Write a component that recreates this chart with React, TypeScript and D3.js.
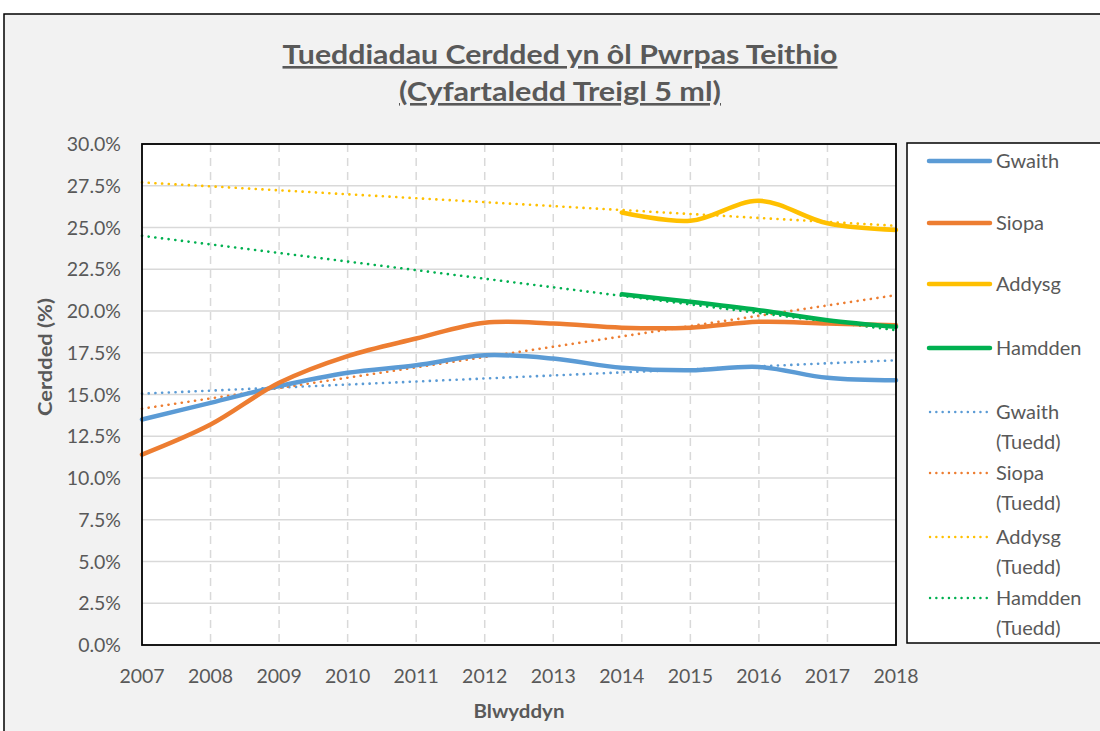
import React from "react";
import * as d3 from "d3";

const years = [2007, 2008, 2009, 2010, 2011, 2012, 2013, 2014, 2015, 2016, 2017, 2018];
const gwaith = [13.5, 14.5, 15.5, 16.3, 16.75, 17.35, 17.15, 16.6, 16.45, 16.65, 16.0, 15.85];
const siopa = [11.4, 13.2, 15.7, 17.3, 18.35, 19.3, 19.25, 19.0, 19.0, 19.35, 19.25, 19.15];
const addysgYears = [2014, 2015, 2016, 2017, 2018];
const addysg = [25.9, 25.4, 26.6, 25.25, 24.85];
const hamdden = [21.0, 20.55, 20.05, 19.45, 19.05];
const trendYears = [2007, 2018];
const gwaithTrend = [15.05, 17.05];
const siopaTrend = [14.15, 20.95];
const addysgTrend = [27.7, 25.1];
const hamddenTrend = [24.5, 18.85];
const yTicks = [0, 2.5, 5, 7.5, 10, 12.5, 15, 17.5, 20, 22.5, 25, 27.5, 30];

const COLORS = { gwaith: "#5b9bd5", siopa: "#ed7d31", addysg: "#ffc000", hamdden: "#00b050" };

const font = "Lato, 'Open Sans', sans-serif";
const textCol = "#595959";

export default function App() {
  const W = 1100, H = 731;
  const L = 142, R = 896, T = 144, B = 645;
  const x = d3.scaleLinear().domain([2007, 2018]).range([L, R]);
  const y = d3.scaleLinear().domain([0, 30]).range([B, T]);
  const smooth = d3.line<[number, number]>().x(d => x(d[0])).y(d => y(d[1])).curve(d3.curveCatmullRom.alpha(0.5));
  const straight = d3.line<[number, number]>().x(d => x(d[0])).y(d => y(d[1]));
  const zip = (xs: number[], vs: number[]) => xs.map((v, i) => [v, vs[i]] as [number, number]);

  const solids = [
    { name: "Gwaith", color: COLORS.gwaith, d: smooth(zip(years, gwaith)) },
    { name: "Siopa", color: COLORS.siopa, d: smooth(zip(years, siopa)) },
    { name: "Addysg", color: COLORS.addysg, d: smooth(zip(addysgYears, addysg)) },
    { name: "Hamdden", color: COLORS.hamdden, d: smooth(zip(addysgYears, hamdden)) },
  ];
  const trends = [
    { name: "Gwaith", color: COLORS.gwaith, d: straight(zip(trendYears, gwaithTrend)) },
    { name: "Siopa", color: COLORS.siopa, d: straight(zip(trendYears, siopaTrend)) },
    { name: "Addysg", color: COLORS.addysg, d: straight(zip(trendYears, addysgTrend)) },
    { name: "Hamdden", color: COLORS.hamdden, d: straight(zip(trendYears, hamddenTrend)) },
  ];
  const dot = { strokeWidth: 2.6, strokeDasharray: "0.1 6.6", strokeLinecap: "round" as const };

  const legendSolidY = [161, 223, 284, 348];
  const legendTrendY = [412, 473, 537, 598];

  return (
    <svg width={W} height={H} style={{ position: "absolute", left: 0, top: 0, fontFamily: font }}>
      <rect x={0} y={0} width={W} height={H} fill="#ffffff" />
      <rect x={4} y={14} width={W + 10} height={H + 10} fill="#f2f2f2" stroke="#000" strokeWidth={1.5} />
      <text x={560} y={64} textAnchor="middle" fontSize={26} fontWeight="bold" fill={textCol} textDecoration="underline" textLength={555} lengthAdjust="spacingAndGlyphs">Tueddiadau Cerdded yn ôl Pwrpas Teithio</text>
      <text x={560} y={101} textAnchor="middle" fontSize={26} fontWeight="bold" fill={textCol} textDecoration="underline" textLength={322} lengthAdjust="spacingAndGlyphs">(Cyfartaledd Treigl 5 ml)</text>

      <rect x={L} y={T} width={R - L} height={B - T} fill="#fff" />
      {yTicks.filter(t => t > 0).map(t => (
        <line key={"h" + t} x1={L} x2={R} y1={y(t)} y2={y(t)} stroke="#d9d9d9" strokeWidth={1.5} />
      ))}
      {years.slice(1, -1).map(yr => (
        <line key={"v" + yr} x1={x(yr)} x2={x(yr)} y1={T} y2={B} stroke="#d9d9d9" strokeWidth={1.5} strokeDasharray="8 6" />
      ))}
      {trends.map(t => (
        <path key={"t" + t.name} d={t.d || ""} fill="none" stroke={t.color} {...dot} />
      ))}
      {solids.map(s => (
        <path key={"s" + s.name} d={s.d || ""} fill="none" stroke={s.color} strokeWidth={4.5} strokeLinecap="round" />
      ))}
      <rect x={L} y={T} width={R - L} height={B - T} fill="none" stroke="#000" strokeWidth={1.8} />

      {yTicks.map(t => (
        <text key={"yl" + t} x={121} y={y(t) + 7} textAnchor="end" fontSize={19.5} fill={textCol}>{t.toFixed(1)}%</text>
      ))}
      {years.map(yr => (
        <text key={"xl" + yr} x={x(yr)} y={683} textAnchor="middle" fontSize={19.5} fill={textCol}>{yr}</text>
      ))}
      <text x={519} y={718} textAnchor="middle" fontSize={18} fontWeight="bold" fill={textCol} textLength={91} lengthAdjust="spacingAndGlyphs">Blwyddyn</text>
      <text transform={`translate(52, 357) rotate(-90)`} textAnchor="middle" fontSize={18} fontWeight="bold" fill={textCol} textLength={118} lengthAdjust="spacingAndGlyphs">Cerdded (%)</text>

      <rect x={907} y={143} width={W} height={500} fill="#fff" stroke="#000" strokeWidth={1.5} />
      {solids.map((s, i) => (
        <g key={"ls" + s.name}>
          <line x1={929} x2={990} y1={legendSolidY[i]} y2={legendSolidY[i]} stroke={s.color} strokeWidth={4.5} strokeLinecap="round" />
          <text x={996} y={legendSolidY[i] + 7} fontSize={20} fill={textCol}>{s.name}</text>
        </g>
      ))}
      {trends.map((t, i) => (
        <g key={"lt" + t.name}>
          <line x1={930} x2={990} y1={legendTrendY[i]} y2={legendTrendY[i]} stroke={t.color} strokeWidth={2.4} strokeDasharray="0.1 6.2" strokeLinecap="round" />
          <text x={996} y={legendTrendY[i] + 7} fontSize={20} fill={textCol}>{t.name}</text>
          <text x={996} y={legendTrendY[i] + 37} fontSize={20} fill={textCol}>(Tuedd)</text>
        </g>
      ))}
    </svg>
  );
}
